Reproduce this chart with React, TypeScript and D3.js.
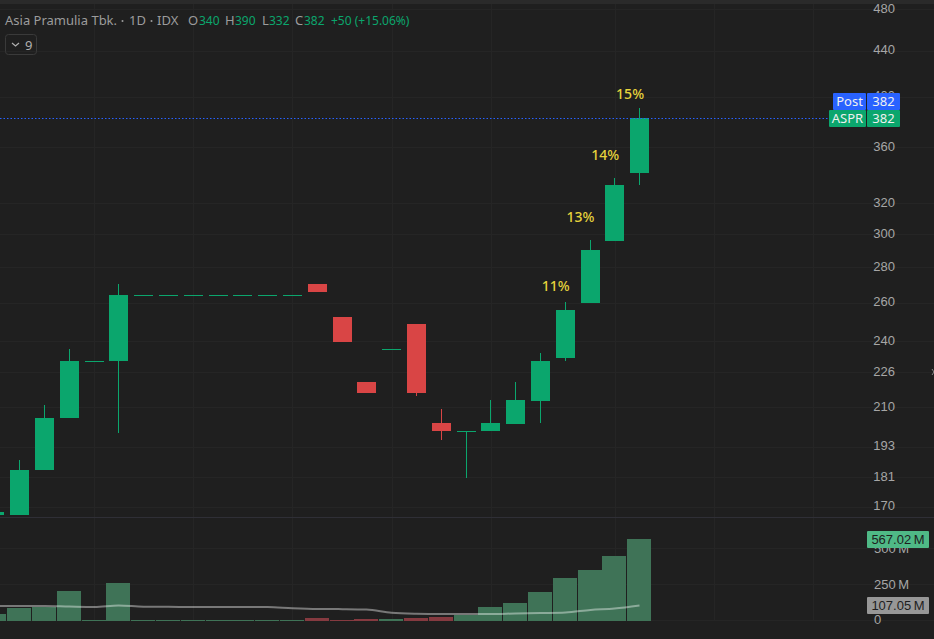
import React from "react";
import * as d3 from "d3";

const W = 934, H = 639;
const GREEN = "#0ba66d", RED = "#d94545", VOL_UP = "#3f7357", VOL_DOWN = "#853a40", AXIS = "#a6a6a6", MUTED = "#9c9c9c";

const index = [-1, 0, 1, 2, 3, 4, 5, 6, 7, 8, 9, 10, 11, 12, 13, 14, 15, 16, 17, 18, 19, 20, 21, 22, 23, 24, 25];
const opens = [166.5, 166.5, 183, 204, 230, 230, 264, 264, 264, 264, 264, 264, 264, 270, 252, 220, 235.5, 248, 201.8, 198.7, 198.4, 201.4, 211.2, 231, 259.2, 295, 340];
const highs = [167.5, 186.7, 209.5, 235.5, 230, 269.7, 264, 264, 264, 264, 264, 264, 264, 270, 252, 220, 235.5, 248, 207.7, 198.7, 211.7, 219.8, 233.5, 259.8, 295.7, 337, 390];
const lows = [166, 166.5, 183, 204, 230, 197.6, 264, 264, 264, 264, 264, 264, 264, 265.5, 239, 215, 235.5, 213.5, 194.7, 179.9, 198.4, 201.4, 201.8, 229.6, 259.2, 295, 332];
const closes = [167.5, 183, 204, 229.6, 230, 264, 264, 264, 264, 264, 264, 264, 264, 265.5, 239, 215, 235.5, 215, 198.4, 198.7, 201.8, 211.7, 229.6, 255.4, 289.6, 331.7, 382];
const volumes = [48, 90, 99, 207, 7, 262, 6, 6, 6, 6, 6, 6, 6, 21, 6, 14, 14, 21, 28, 41, 97, 124, 200, 297, 352, 449, 567];
const volMA = [104, 104, 104, 100, 97, 108, 99, 98, 97, 97, 97, 96, 88, 83, 82, 79, 57, 50, 48, 48, 48, 52, 55, 59, 76, 86, 107];
const tickLabels = [480, 440, 400, 360, 320, 300, 280, 260, 240, 226, 210, 193, 181, 170];
const tickLevels = [480, 440, 400, 360, 320, 300, 280, 260, 240, 224.9, 209, 192.6, 180.6, 169.8];
const volTicks = [0, 250, 500];
const volTickLabels = ["0", "250\u2009M", "500\u2009M"];
const pctTexts = ["11%", "13%", "14%", "15%"];
const pctIndex = [22, 23, 24, 25];
const pctLevels = [265.8, 307, 349.4, 397];
const gridIdx = [3, 7, 11, 15, 19, 24, 28, 32];

const x = d3.scaleLinear().domain([0, 25]).range([19.6, 639.6]);
const y = d3.scaleLog().domain([480, 170]).range([8.3, 505.3]);
const yv = d3.scaleLinear().domain([0, 567]).range([621, 539]);
const FONT = "'Noto Sans', sans-serif";
const AXIS_FONT = "'Liberation Sans', Arial, sans-serif";
const bodyW = 19, volW = 24;
const bodyLeft = (i: number) => Math.round(x(i) - bodyW / 2 + 0.001);

export default function App() {
  const maLine = d3.line<number>().x((_, k) => bodyLeft(index[k]) + 9.5).y((d) => yv(d)).curve(d3.curveMonotoneX);
  return (
    <svg width={W} height={H} style={{ position: "fixed", left: 0, top: 0, display: "block", fontFamily: FONT }}>
      <rect width={W} height={H} fill="#1f1f1f" />
      <rect width={W} height={4} fill="#2a2a2a" />
      {gridIdx.map((g) => (
        <line key={g} x1={Math.round(x(g)) + 0.5} x2={Math.round(x(g)) + 0.5} y1={4} y2={H - 18} stroke="#252525" />
      ))}
      {tickLevels.map((t) => (
        <line key={t} x1={0} x2={W} y1={Math.round(y(t)) + 1.5} y2={Math.round(y(t)) + 1.5} stroke="#252525" />
      ))}
      {volTicks.map((t) => (
        <line key={t} x1={0} x2={W} y1={Math.round(yv(t)) - 0.5} y2={Math.round(yv(t)) - 0.5} stroke="#252525" />
      ))}
      <line x1={0} x2={W} y1={517.5} y2={517.5} stroke="#2f2f36" />

      {index.map((idx, k) => {
        const c = closes[k] >= opens[k] ? GREEN : RED;
        const left = bodyLeft(idx);
        const top = Math.round(y(Math.max(opens[k], closes[k])));
        const bot = Math.round(y(Math.min(opens[k], closes[k])));
        return (
          <g key={idx}>
            <line x1={left + 9.5} x2={left + 9.5} y1={Math.round(y(highs[k]))} y2={Math.round(y(lows[k]))} stroke={c} strokeWidth={1} />
            <rect x={left} y={top} width={bodyW} height={Math.max(bot - top, 1)} fill={c} />
          </g>
        );
      })}

      {index.map((idx, k) => (
        <rect key={idx} x={bodyLeft(idx) - 3} y={Math.round(yv(volumes[k]))} width={volW}
          height={Math.round(yv(0)) - Math.round(yv(volumes[k]))}
          fill={closes[k] >= opens[k] ? VOL_UP : VOL_DOWN} />
      ))}
      <path d={maLine(volMA) ?? ""} fill="none" stroke="#ffffff" strokeOpacity={0.4} strokeWidth={2} />

      {pctTexts.map((p, k) => (
        <text key={p} x={x(pctIndex[k]) - 9.5} y={y(pctLevels[k])} textAnchor="middle" fontSize={14} fontWeight={500} fill="#e6d33c">{p}</text>
      ))}

      <line x1={0} x2={829} y1={118.5} y2={118.5} stroke="#2962ff" strokeDasharray="1.5 2" />

      {tickLabels.map((t, k) => (
        <text key={t} x={895} y={y(tickLevels[k]) + 4.5} textAnchor="end" fontSize={13} fontFamily={AXIS_FONT} fill={AXIS}>{t}</text>
      ))}
      {volTicks.map((t, k) => (
        <text key={t} x={874} y={yv(t) + (t === 0 ? 3 : 4)} fontSize={13} fontFamily={AXIS_FONT} fill={AXIS}>{volTickLabels[k]}</text>
      ))}

      <rect x={833} y={93} width={33} height={17} rx={1} fill="#2962ff" />
      <rect x={867} y={93} width={33} height={17} rx={1} fill="#2962ff" />
      <text x={849.5} y={106} textAnchor="middle" fontSize={13} fill="#f0f0f0">Post</text>
      <text x={883.5} y={106} textAnchor="middle" fontSize={13} fill="#f0f0f0">382</text>
      <rect x={829} y={110} width={37} height={17} rx={1} fill={GREEN} />
      <rect x={867} y={110} width={33} height={17} rx={1} fill={GREEN} />
      <text x={847.5} y={123} textAnchor="middle" fontSize={13} fill="#f0f0f0">ASPR</text>
      <text x={883.5} y={123} textAnchor="middle" fontSize={13} fill="#f0f0f0">382</text>

      <rect x={867} y={531} width={62} height={17} rx={1} fill="#4fb986" />
      <text x={898} y={544} textAnchor="middle" fontSize={13} fontFamily={AXIS_FONT} fill="#1e1e1e">{"567.02\u2009M"}</text>
      <rect x={867} y={597} width={62} height={17} rx={1} fill="#979797" />
      <text x={898} y={610} textAnchor="middle" fontSize={13} fontFamily={AXIS_FONT} fill="#1e1e1e">{"107.05\u2009M"}</text>

      <g fontSize={13} fill={MUTED}>
        <text x={5} y={25}>Asia Pramulia Tbk.</text>
        <circle cx={122.5} cy={21} r={1} />
        <text x={129} y={25}>1D</text>
        <circle cx={151.5} cy={21} r={1} />
        <text x={157} y={25}>IDX</text>
        <text x={188} y={25}>O</text>
        <text x={225} y={25}>H</text>
        <text x={262} y={25}>L</text>
        <text x={295} y={25}>C</text>
      </g>
      <g fontSize={12} fill={GREEN}>
        <text x={199} y={25}>340</text>
        <text x={235} y={25}>390</text>
        <text x={269} y={25}>332</text>
        <text x={304} y={25}>382</text>
        <text x={331} y={25}>+50 (+15.06%)</text>
      </g>

      <rect x={5.5} y={34.5} width={31} height={20} rx={3} fill="none" stroke="#3a3a3a" />
      <path d="M12 43 L15.5 46 L19 43" fill="none" stroke="#b0b0b0" strokeWidth={1.2} />
      <text x={25} y={50} fontSize={13} fill="#b0b0b0">9</text>
      <path d="M932 369 L934 372 L932 375" fill="none" stroke="#8a8a8a" strokeWidth={1} />
    </svg>
  );
}
